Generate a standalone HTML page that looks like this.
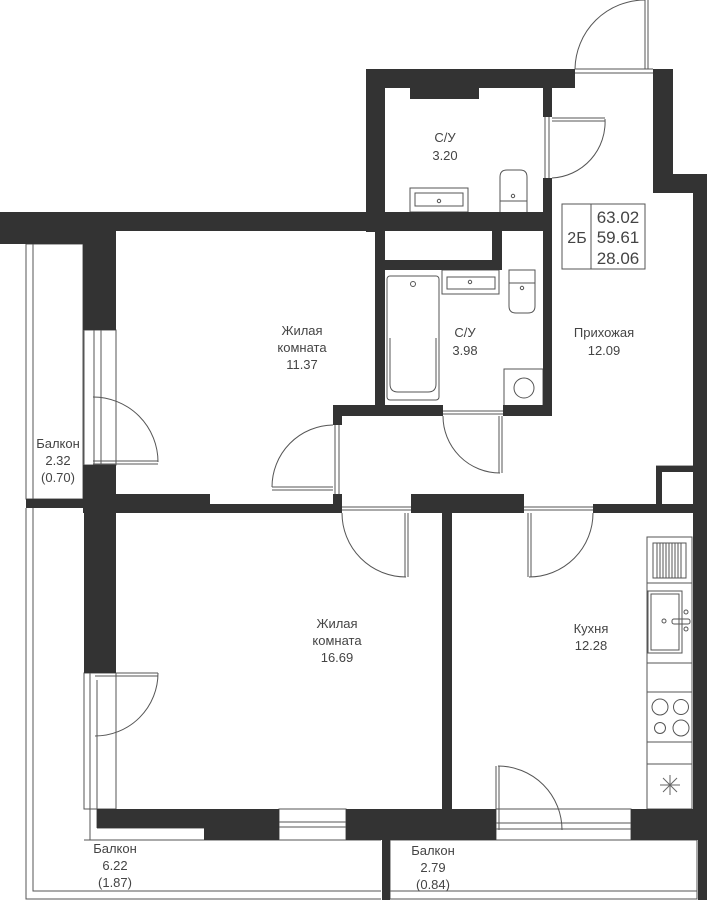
<!DOCTYPE html>
<html><head><meta charset="utf-8"><style>
html,body{margin:0;padding:0;background:#fff;}
svg{display:block}
text{font-family:"Liberation Sans",sans-serif;font-size:13px;fill:#444;text-anchor:middle}
</style></head><body>
<svg width="707" height="900" viewBox="0 0 707 900" xmlns="http://www.w3.org/2000/svg">
<g fill="none" stroke="#555" stroke-width="1">
<rect x="26" y="244" width="57" height="255"/>
<line x1="33" y1="244" x2="33" y2="499"/>
<polyline points="26,508 26,899 381,899"/>
<polyline points="33,508 33,891 381,891"/>
<line x1="84" y1="840" x2="381" y2="840"/>
<rect x="390" y="840" width="307" height="59"/>
<line x1="390" y1="891" x2="697" y2="891"/>
<rect x="84" y="330" width="32" height="135"/>
<line x1="94" y1="330" x2="94" y2="465"/><line x1="101" y1="330" x2="101" y2="465"/>
<rect x="84" y="673" width="32" height="136"/>
<line x1="90" y1="673" x2="90" y2="840"/><line x1="97" y1="680" x2="97" y2="828"/>
<line x1="84" y1="840" x2="204" y2="840"/><line x1="97" y1="828" x2="204" y2="828"/>
<rect x="279" y="809" width="67" height="31"/>
<line x1="279" y1="822" x2="346" y2="822"/><line x1="279" y1="827" x2="346" y2="827"/>
<rect x="496" y="809" width="135" height="31"/>
<line x1="496" y1="823" x2="631" y2="823"/><line x1="496" y1="829" x2="631" y2="829"/>
<path d="M575,69 A70,70 0 0 1 645,0"/><line x1="645" y1="0" x2="645" y2="69"/><line x1="648" y1="0" x2="648" y2="69"/>
<line x1="575" y1="69" x2="653" y2="69"/><line x1="575" y1="73" x2="653" y2="73"/>
<path d="M605,119 A56,56 0 0 1 552,178"/><line x1="552" y1="118" x2="605" y2="118"/><line x1="552" y1="121" x2="605" y2="121"/>
<line x1="545" y1="117" x2="545" y2="178"/><line x1="549" y1="117" x2="549" y2="178"/>
<path d="M93,397 A65,65 0 0 1 158,462"/><line x1="93" y1="461" x2="158" y2="461"/><line x1="93" y1="464" x2="158" y2="464"/>
<path d="M333,425 A62,62 0 0 0 272,487"/><line x1="272" y1="487" x2="333" y2="487"/><line x1="272" y1="490" x2="333" y2="490"/>
<line x1="335" y1="425" x2="335" y2="494"/><line x1="339" y1="425" x2="339" y2="494"/>
<path d="M443,416 A57,57 0 0 0 500,473"/><line x1="499" y1="416" x2="499" y2="473"/><line x1="502" y1="416" x2="502" y2="473"/>
<line x1="443" y1="411" x2="503" y2="411"/><line x1="443" y1="414" x2="503" y2="414"/>
<path d="M342,513 A64,64 0 0 0 406,577"/><line x1="405" y1="513" x2="405" y2="577"/><line x1="408" y1="513" x2="408" y2="577"/>
<line x1="342" y1="507" x2="411" y2="507"/><line x1="342" y1="510" x2="411" y2="510"/>
<path d="M593,513 A64,64 0 0 1 529,577"/><line x1="528" y1="513" x2="528" y2="577"/><line x1="531" y1="513" x2="531" y2="577"/>
<line x1="524" y1="507" x2="593" y2="507"/><line x1="524" y1="510" x2="593" y2="510"/>
<line x1="95" y1="673" x2="158" y2="673"/><line x1="95" y1="676" x2="158" y2="676"/>
<path d="M158,673 A63,63 0 0 1 95,736"/>
<path d="M498,766 A64,64 0 0 1 562,830"/><line x1="496" y1="766" x2="496" y2="830"/><line x1="499" y1="766" x2="499" y2="830"/>
<rect x="410" y="188" width="58" height="24"/><rect x="415" y="193" width="48" height="13"/>
<circle cx="439" cy="201" r="1.7"/>
<path d="M500,212 V177 Q500,170 507,170 H520 Q527,170 527,177 V212 M500,201 H527"/><circle cx="513" cy="196" r="1.7"/>
<rect x="387" y="276" width="52" height="124" rx="3"/><path d="M390,338 V384 Q390,392 398,392 H428 Q436,392 436,384 V338"/>
<circle cx="413" cy="284" r="2.5"/>
<rect x="442" y="270" width="57" height="24"/><rect x="447" y="277" width="48" height="12"/><circle cx="470" cy="282" r="1.7"/>
<path d="M509,270 H535 V306 Q535,313 528,313 H516 Q509,313 509,306 Z M509,283 H535"/><circle cx="522" cy="288" r="1.7"/>
<rect x="504" y="369" width="39" height="39"/><circle cx="524" cy="388" r="10"/>
<rect x="647" y="537" width="45" height="272"/>
<line x1="647" y1="583" x2="692" y2="583"/><line x1="647" y1="663" x2="692" y2="663"/>
<line x1="647" y1="692" x2="692" y2="692"/><line x1="647" y1="742" x2="692" y2="742"/><line x1="647" y1="764" x2="692" y2="764"/>
<rect x="653" y="543" width="33" height="35"/>
<rect x="648" y="591" width="34" height="62"/><rect x="651" y="594" width="28" height="56"/>
<rect x="672" y="619" width="18" height="5" rx="2"/><circle cx="664" cy="621" r="2"/><circle cx="686" cy="612" r="2"/><circle cx="686" cy="629" r="2"/>
<circle cx="660" cy="707" r="8"/><circle cx="681" cy="707" r="7.5"/><circle cx="660" cy="728" r="5.5"/><circle cx="681" cy="728" r="8"/>
<g stroke="#666"><line x1="670" y1="775" x2="670" y2="795"/><line x1="660" y1="785" x2="680" y2="785"/><line x1="663" y1="778" x2="677" y2="792"/><line x1="677" y1="778" x2="663" y2="792"/></g>
<rect x="562" y="204" width="83" height="65"/><line x1="591" y1="204" x2="591" y2="269"/>
<line x1="656" y1="466" x2="693" y2="466"/>
</g>
<g stroke="#555" stroke-width="1">
<line x1="657" y1="543" x2="657" y2="578"/><line x1="660" y1="543" x2="660" y2="578"/><line x1="663" y1="543" x2="663" y2="578"/><line x1="666" y1="543" x2="666" y2="578"/><line x1="669" y1="543" x2="669" y2="578"/><line x1="672" y1="543" x2="672" y2="578"/><line x1="675" y1="543" x2="675" y2="578"/><line x1="678" y1="543" x2="678" y2="578"/><line x1="681" y1="543" x2="681" y2="578"/>
</g>
<g fill="#333">
<rect x="366" y="69" width="209" height="19"/>
<rect x="366" y="69" width="19" height="163"/>
<rect x="410" y="88" width="69" height="11"/>
<rect x="543" y="88" width="9" height="29"/>
<rect x="543" y="178" width="9" height="54"/>
<rect x="653" y="69" width="20" height="124"/>
<rect x="653" y="174" width="54" height="19"/>
<rect x="693" y="174" width="14" height="339"/>
<rect x="0" y="212" width="552" height="19"/>
<rect x="0" y="212" width="116" height="32"/>
<rect x="83" y="212" width="33" height="118"/>
<rect x="375" y="231" width="10" height="174"/>
<rect x="385" y="260" width="117" height="10"/>
<rect x="492" y="231" width="10" height="39"/>
<rect x="543" y="231" width="9" height="181"/>
<rect x="333" y="405" width="110" height="11"/>
<rect x="503" y="405" width="49" height="11"/>
<rect x="333" y="405" width="9" height="20"/>
<rect x="333" y="494" width="9" height="19"/>
<rect x="83" y="465" width="33" height="34"/>
<rect x="83" y="494" width="127" height="19"/>
<rect x="83" y="504" width="259" height="9"/>
<rect x="26" y="499" width="90" height="9"/>
<rect x="411" y="494" width="113" height="19"/>
<rect x="593" y="504" width="114" height="9"/>
<rect x="656" y="466" width="6" height="47"/>
<rect x="656" y="466" width="51" height="6"/>
<rect x="84" y="508" width="32" height="165"/>
<rect x="442" y="513" width="10" height="296"/>
<rect x="693" y="513" width="14" height="296"/>
<rect x="97" y="809" width="182" height="19"/>
<rect x="204" y="809" width="75" height="31"/>
<rect x="346" y="809" width="150" height="31"/>
<rect x="631" y="809" width="76" height="31"/>
<rect x="698" y="840" width="9" height="60"/>
<rect x="382" y="840" width="8" height="60"/>
</g>
<g>
<text x="445" y="142">С/У</text><text x="445" y="160">3.20</text>
<text x="465" y="337">С/У</text><text x="465" y="355">3.98</text>
<text x="604" y="337">Прихожая</text><text x="604" y="355">12.09</text>
<text x="302" y="335">Жилая</text><text x="302" y="352">комната</text><text x="302" y="369">11.37</text>
<text x="58" y="448">Балкон</text><text x="58" y="465">2.32</text><text x="58" y="482">(0.70)</text>
<text x="337" y="628">Жилая</text><text x="337" y="645">комната</text><text x="337" y="662">16.69</text>
<text x="591" y="633">Кухня</text><text x="591" y="650">12.28</text>
<text x="115" y="853">Балкон</text><text x="115" y="870">6.22</text><text x="115" y="887">(1.87)</text>
<text x="433" y="855">Балкон</text><text x="433" y="872">2.79</text><text x="433" y="889">(0.84)</text>
<text x="577" y="243" style="font-size:16px">2Б</text>
<text x="618" y="223" style="font-size:17px">63.02</text>
<text x="618" y="243" style="font-size:17px">59.61</text>
<text x="618" y="264" style="font-size:17px">28.06</text>
</g>
</svg>
</body></html>
